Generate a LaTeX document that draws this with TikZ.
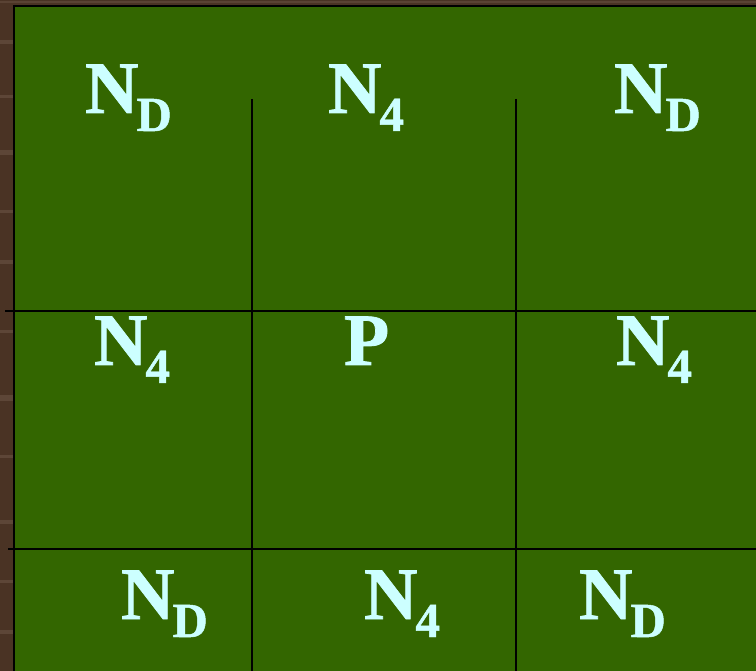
\documentclass[tikz,border=0pt]{standalone}
\usepackage{fontspec}
\setmainfont{Liberation Serif}
\newfontfamily\boldserif{Liberation Serif Bold}[FakeBold=1]
\definecolor{wood}{HTML}{4A3324}
\definecolor{woodlight}{HTML}{6B5444}
\definecolor{board}{HTML}{336600}
\definecolor{chalk}{HTML}{CCFFFF}
\newcommand\mysub[1]{\kern-2pt\raisebox{-18pt}{\fontsize{49}{49}\selectfont #1}}
\tikzset{
  lbl/.style={text=chalk, font=\boldserif\fontsize{74}{74}\selectfont, anchor=base west, inner sep=0pt, outer sep=0pt},
  gridline/.style={draw=black, line width=2pt},
}
\begin{document}
\begin{tikzpicture}[x=1pt,y=-1pt]
\useasboundingbox (0,0) rectangle (756,671);
% wood background
\fill[wood] (0,0) rectangle (756,671);
\foreach \yy/\hh in {40/4,95/3,150/5,210/3,260/4,330/3,395/6,455/3,520/4,580/3,630/4}{
  \fill[woodlight, opacity=0.6] (0,\yy) rectangle (13,\yy+\hh);
}
\fill[woodlight, opacity=0.5] (0,1) rectangle (756,3);
% board
\fill[board] (14,6) rectangle (756,671);
\draw[gridline] (14,5) -- (14,671);
\draw[gridline] (13,6) -- (756,6);
% grid
\coordinate (h1a) at (5,311);   \coordinate (h1b) at (756,311);
\coordinate (h2a) at (8,549);   \coordinate (h2b) at (756,549);
\coordinate (v1a) at (252,99);  \coordinate (v1b) at (252,671);
\coordinate (v2a) at (516,99);  \coordinate (v2b) at (516,671);
\draw[gridline] (h1a) -- (h1b);
\draw[gridline] (h2a) -- (h2b);
\draw[gridline] (v1a) -- (v1b);
\draw[gridline] (v2a) -- (v2b);
% labels
\node[lbl] (t1) at (85,113) {N\mysub{D}};
\node[lbl] (t2) at (328,113) {N\mysub{4}};
\node[lbl] (t3) at (614,113) {N\mysub{D}};
\node[lbl] (m1) at (94,365) {N\mysub{4}};
\node[lbl] (m2) at (344,365) {P};
\node[lbl] (m3) at (616,365) {N\mysub{4}};
\node[lbl] (b1) at (121,619) {N\mysub{D}};
\node[lbl] (b2) at (364,619) {N\mysub{4}};
\node[lbl] (b3) at (579,619) {N\mysub{D}};
\end{tikzpicture}
\end{document}
